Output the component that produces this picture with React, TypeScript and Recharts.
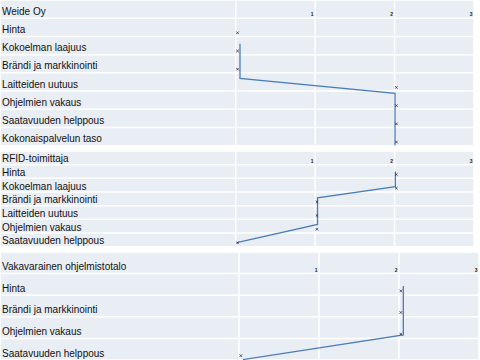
import { ScatterChart, Scatter, XAxis, YAxis, CartesianGrid } from "recharts"

// Arvot luettu kuvasta (asteikko 0–3)
const weideTitle = "Weide Oy"
const weideCategories = [
    "Hinta",
    "Kokoelman laajuus",
    "Brändi ja markkinointi",
    "Laitteiden uutuus",
    "Ohjelmien vakaus",
    "Saatavuuden helppous",
    "Kokonaispalvelun taso",
]
const weideValues = [0, 0, 0, 2, 2, 2, 2]
const weideLineX = [0.054, 0.054, 2.006, 2.006]
const weideLineRow = [2.4, 4.3, 5.13, 7.99]

const rfidTitle = "RFID-toimittaja"
const rfidCategories = [
    "Hinta",
    "Kokoelman laajuus",
    "Brändi ja markkinointi",
    "Laitteiden uutuus",
    "Ohjelmien vakaus",
    "Saatavuuden helppous",
]
const rfidValues = [2, 2, 1, 1, 1, 0]
const rfidLineX = [2.01, 2.01, 1.03, 1.03, 0.013]
const rfidLineRow = [1.5, 2.61, 3.42, 5.37, 6.71]

const vakaTitle = "Vakavarainen ohjelmistotalo"
const vakaCategories = ["Hinta", "Brändi ja markkinointi", "Ohjelmien vakaus", "Saatavuuden helppous"]
const vakaValues = [2, 2, 2, 0]
const vakaLineX = [2.054, 2.054, 0.05]
const vakaLineRow = [1.574, 3.84, 4.98]

const scaleTicks = [0, 1, 2, 3]

interface PanelProps {
    title: string
    categories: string[]
    values: number[]
    lineX: number[]
    lineRow: number[]
    top: number
    width: number
    height: number
    labelWidth: number
    markerRow: number
    baseline: number
}

function Panel({ title, categories, values, lineX, lineRow, top, width, height, labelWidth, markerRow, baseline }: PanelProps) {
    const rows = categories.length + 1
    const rowH = height / rows
    const unit = (width - labelWidth) / 3
    const xMin = -labelWidth / unit
    const rowTicks = Array.from({ length: rows + 1 }, (_, i) => i)

    const markers = values.map((v, i) => ({ x: v, y: i + 1 + markerRow }))
    const line = lineX.map((x, i) => ({ x, y: lineRow[i] }))

    const rowTick = (props: any) => {
        const i = props.payload.value
        const text = i === 0 ? title : categories[i - 1]
        if (!text) return <g />
        return (
            <text x={2} y={props.y + rowH - baseline} fontSize={10} fill="#111" fontFamily="Liberation Sans">
                {text}
            </text>
        )
    }

    const scaleTick = (props: any) => {
        const v = props.payload.value
        if (v <= 0) return <g />
        return (
            <text x={props.x - 1.5} y={rowH - 2} fontSize={5} fontWeight="bold" textAnchor="end" fill="#222" fontFamily="Liberation Sans">
                {v}
            </text>
        )
    }

    const cross = (p: any) => {
        const cx = p.cx + 1.8
        const cy = p.cy
        return (
            <path
                d={`M${cx - 1.3},${cy - 1.3}L${cx + 1.3},${cy + 1.3}M${cx + 1.3},${cy - 1.3}L${cx - 1.3},${cy + 1.3}`}
                stroke="#3a3050"
                strokeWidth={0.8}
            />
        )
    }

    return (
        <div style={{ position: "absolute", left: 0, top }}>
            <ScatterChart width={width} height={height} margin={{ top: 0, right: 0, bottom: 0, left: 0 }}>
                <CartesianGrid stroke="#ffffff" strokeWidth={1.5} fill="#e9edf4" fillOpacity={1} />
                <XAxis
                    type="number"
                    dataKey="x"
                    orientation="top"
                    mirror
                    height={1}
                    domain={[xMin, 3]}
                    ticks={[xMin, ...scaleTicks]}
                    interval={0}
                    allowDataOverflow
                    axisLine={false}
                    tickLine={false}
                    tick={scaleTick}
                />
                <YAxis
                    type="number"
                    dataKey="y"
                    mirror
                    width={1}
                    reversed
                    domain={[0, rows]}
                    ticks={rowTicks}
                    interval={0}
                    allowDataOverflow
                    axisLine={false}
                    tickLine={false}
                    tick={rowTick}
                />
                <Scatter
                    data={line}
                    line={{ stroke: "#4a7ebb", strokeWidth: 1.3 }}
                    shape={() => <g />}
                    isAnimationActive={false}
                />
                <Scatter data={markers} shape={cross} isAnimationActive={false} />
            </ScatterChart>
        </div>
    )
}

export default function App() {
    return (
        <div style={{ position: "absolute", left: 0, top: 0, width: 480, height: 360, background: "#fff" }}>
            <Panel
                title={weideTitle}
                categories={weideCategories}
                values={weideValues}
                lineX={weideLineX}
                lineRow={weideLineRow}
                top={0}
                width={474}
                height={145.7}
                labelWidth={235.7}
                markerRow={0.8}
                baseline={3.5}
            />
            <Panel
                title={rfidTitle}
                categories={rfidCategories}
                values={rfidValues}
                lineX={rfidLineX}
                lineRow={rfidLineRow}
                top={150.6}
                width={474}
                height={95.7}
                labelWidth={235.7}
                markerRow={0.72}
                baseline={2.5}
            />
            <Panel
                title={vakaTitle}
                categories={vakaCategories}
                values={vakaValues}
                lineX={vakaLineX}
                lineRow={vakaLineRow}
                top={252}
                width={479}
                height={108}
                labelWidth={239}
                markerRow={0.8}
                baseline={3.5}
            />
        </div>
    )
}
